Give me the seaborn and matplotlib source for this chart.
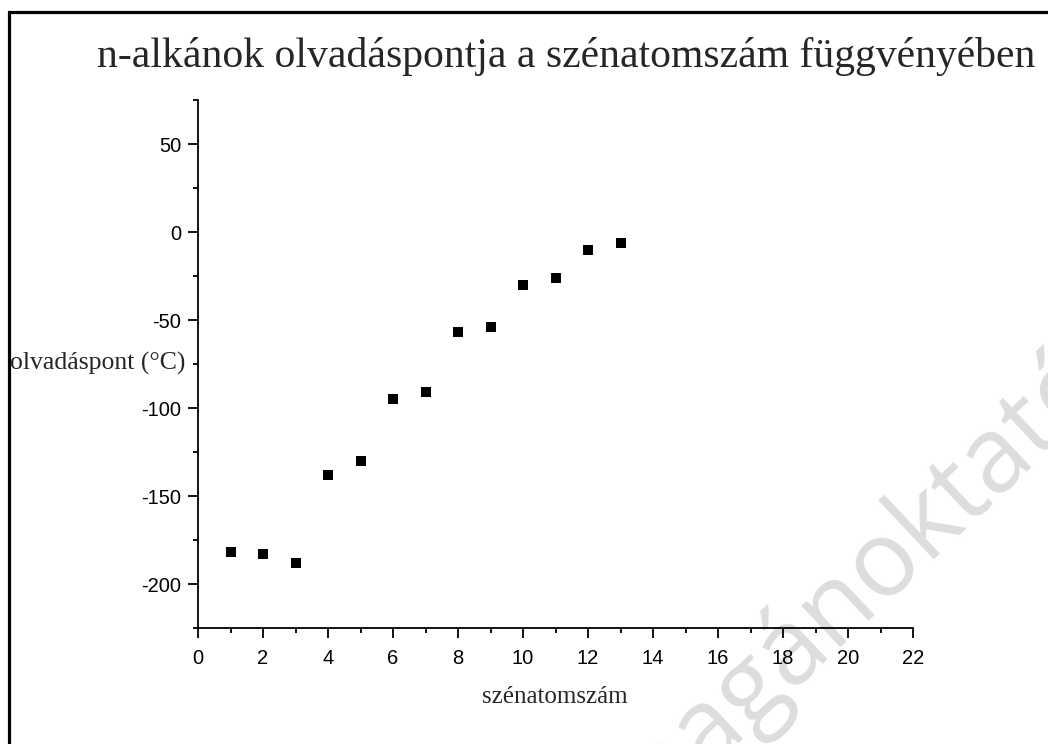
import matplotlib
matplotlib.use("Agg")
import matplotlib.pyplot as plt
import seaborn as sns
import pandas as pd
from matplotlib.ticker import MultipleLocator
from matplotlib.patches import Rectangle

# Data
carbon_atoms = [1, 2, 3, 4, 5, 6, 7, 8, 9, 10, 11, 12, 13]
melting_points = [-182, -183, -188, -138, -130, -95, -91, -57, -54, -30, -26, -10, -6]

title = "n-alkánok olvadáspontja a szénatomszám függvényében"
xlabel = "szénatomszám"
ylabel = "olvadáspont (°C)"
watermark = "magánoktató"

df = pd.DataFrame({"x": carbon_atoms, "y": melting_points})

sns.set_style("ticks")
plt.rcParams["font.family"] = ["Liberation Sans", "DejaVu Sans"]
plt.rcParams["axes.unicode_minus"] = False

W, H = 1048, 744
fig = plt.figure(figsize=(W / 100, H / 100), dpi=100)
fig.patch.set_facecolor("white")

# watermark
fig.text(872 / W, 1 - 610 / H, watermark, fontsize=76, color="#dddddd",
         rotation=43.3, rotation_mode="anchor", ha="center", va="baseline",
         family=["Open Sans", "DejaVu Sans"], zorder=0)

ax = fig.add_axes([198 / W, 1 - 628 / H, (913 - 198) / W, (628 - 100) / H])
ax.set_facecolor("none")
ax.set_zorder(1)

sns.scatterplot(data=df, x="x", y="y", marker="s", color="black", s=62,
                linewidth=0, ax=ax, zorder=3)

ax.set_xlim(0, 22)
ax.set_ylim(-225, 75)
ax.xaxis.set_major_locator(MultipleLocator(2))
ax.xaxis.set_minor_locator(MultipleLocator(1))
ax.yaxis.set_major_locator(MultipleLocator(50))
ax.yaxis.set_minor_locator(MultipleLocator(25))

for s in ["top", "right"]:
    ax.spines[s].set_visible(False)
for s in ["left", "bottom"]:
    ax.spines[s].set_linewidth(1.3)
    ax.spines[s].set_color("black")

ax.tick_params(axis="both", which="major", direction="out", length=7, width=1.3,
               labelsize=14.5, colors="black")
ax.tick_params(axis="x", which="major", pad=8)
ax.tick_params(axis="y", which="major", pad=5)
ax.tick_params(axis="both", which="minor", direction="out", length=3.5, width=1.3,
               colors="black")

ax.set_xlabel("")
ax.set_ylabel("")

fig.text(555 / W, 1 - 697 / H, xlabel, fontsize=18, family="Liberation Serif",
         ha="center", va="center")
fig.text(10 / W, 1 - 363 / H, ylabel, fontsize=18.5, family="Liberation Serif",
         ha="left", va="center")
fig.text(566 / W, 1 - 57 / H, title, fontsize=30, family="Liberation Serif",
         ha="center", va="center")

# figure frame
fig.add_artist(Rectangle((9 / W, -0.2), 1.5, (1 - 12 / H) + 0.2,
                         transform=fig.transFigure, fill=False, edgecolor="black",
                         linewidth=2.3, clip_on=False))

fig.savefig("out.png", dpi=100)
